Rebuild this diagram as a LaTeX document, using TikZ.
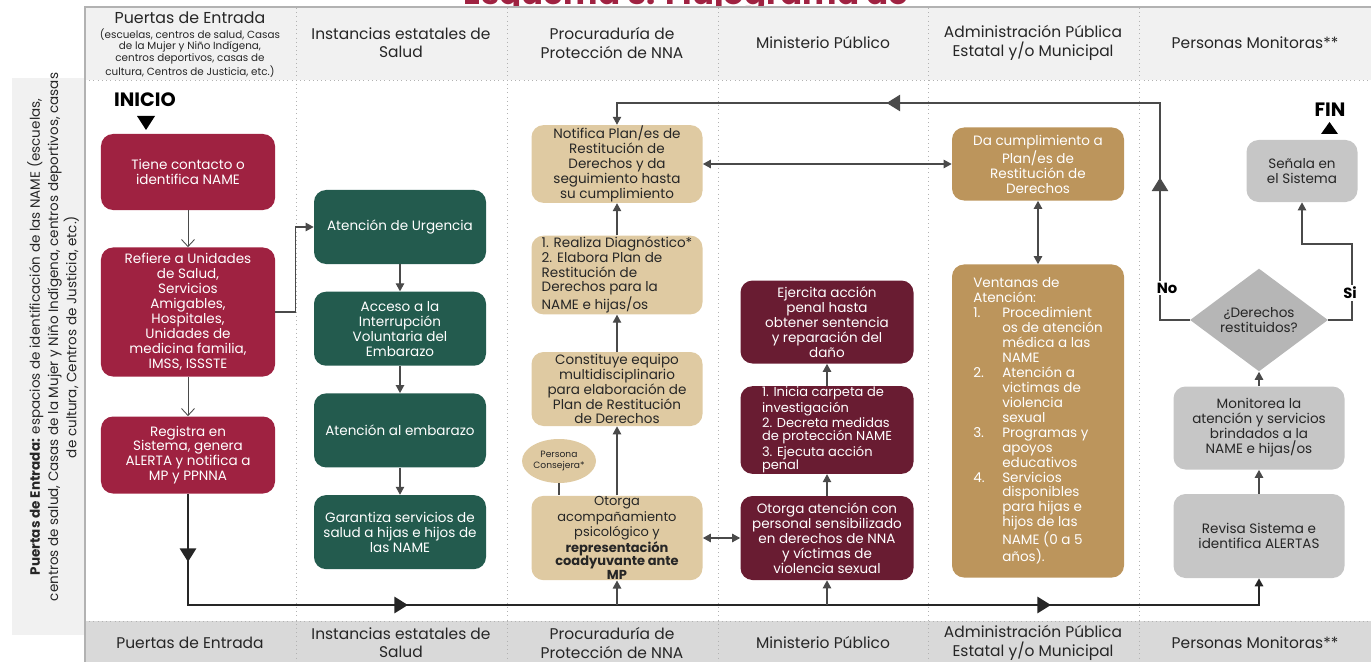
\documentclass[tikz,border=0pt]{standalone}
\usepackage{fontspec}
\setmainfont{Poppins}
\usepackage{tikz}
\usetikzlibrary{calc,positioning,arrows.meta,shapes.geometric,decorations.markings}

\definecolor{guinda}{HTML}{9F2241}
\definecolor{verde}{HTML}{235B4E}
\definecolor{arena}{HTML}{DFCAA2}
\definecolor{vino}{HTML}{691C32}
\definecolor{oro}{HTML}{BC955C}
\definecolor{grisbox}{HTML}{C6C6C6}
\definecolor{grisenc}{HTML}{F1F1F1}
\definecolor{grispie}{HTML}{D9D9D9}
\definecolor{linea}{HTML}{4A4A4A}
\definecolor{texto}{HTML}{262626}

\newcommand{\bigtri}{\arrow{Triangle[length=2.7mm,width=3.3mm]}}
\newcommand{\numv}[1]{\makebox[5.8mm][l]{#1}}
\newcommand{\sangria}{\hspace*{5.8mm}}

\begin{document}
\begin{tikzpicture}[x=0.2mm,y=-0.2mm]
\tikzstyle{caja}=[rectangle, rounded corners=2.4mm, align=center, inner sep=0.5pt, font=\fontsize{7.7}{8.5}\selectfont]
\tikzstyle{roja}=[caja, fill=guinda, text=white, minimum width=34.8mm]
\tikzstyle{verdec}=[caja, fill=verde, text=white, minimum width=34.4mm, minimum height=14.8mm, node distance=5.4mm]
\tikzstyle{arenac}=[caja, fill=arena, text=texto, minimum width=34.2mm]
\tikzstyle{vinoc}=[caja, fill=vino, text=white, minimum width=34.6mm]
\tikzstyle{oroc}=[caja, fill=oro, text=white, minimum width=34.4mm]
\tikzstyle{grisc}=[caja, fill=grisbox, text=texto, minimum width=34.2mm]
\tikzstyle{apretada}=[font=\fontsize{7.4}{7.6}\selectfont]
\tikzstyle{flecha}=[draw=linea, line width=0.6pt, -{Triangle[length=1.6mm,width=1.7mm]}]
\tikzstyle{doble}=[draw=linea, line width=0.6pt, {Triangle[length=1.6mm,width=1.7mm]}-{Triangle[length=1.6mm,width=1.7mm]}]
\tikzstyle{abierta}=[draw=linea, line width=0.5pt, -{Straight Barb[length=1.4mm,width=2.6mm]}]
\tikzstyle{guia}=[gray!60, dotted, line width=0.4pt]
\tikzstyle{encab}=[align=center, text=texto, font=\fontsize{8.8}{10.4}\selectfont]
\tikzstyle{etiq}=[fill=white, inner sep=1pt, font=\bfseries\fontsize{8.4}{9}\selectfont]

\clip (0,0) rectangle (1371,662);

% titulo cortado arriba
\node[anchor=base, text=guinda, font=\bfseries\fontsize{18.5}{20}\selectfont] (titulo) at (686,5) {Esquema 3. Flujograma de};

% fondos y carriles
\fill[grisenc] (85,7) rectangle (1371,80);
\fill[grispie] (85,621) rectangle (1371,662);
\fill[grisenc] (12,78) rectangle (85,635);
\draw[gray!60, line width=0.6pt] (85,662) -- (85,7) -- (1371,7);
\foreach \x in {296,507,718,928,1139}{\draw[guia] (\x,8) -- (\x,662);}
\draw[guia] (85,80) -- (1371,80);
\draw[guia] (85,621) -- (1371,621);

% encabezados
\node[encab, font=\fontsize{9}{10}\selectfont] (h1) at (190,18) {Puertas de Entrada};
\node[encab, font=\fontsize{5.9}{6.7}\selectfont] (h1b) at (190,53) {(escuelas, centros de salud, Casas\\de la Mujer y Niño Indígena,\\centros deportivos, casas de\\cultura, Centros de Justicia, etc.)};
\foreach \x/\t [count=\k from 2] in {401/{Instancias estatales de\\Salud}, 612/{Procuraduría de\\Protección de NNA}, 823/{Ministerio Público}, 1033/{Administración Pública\\Estatal y/o Municipal}, 1255/{Personas Monitoras**}}{\node[encab] (h\k) at (\x,43) {\t};}
\foreach \x/\t [count=\k] in {190/{Puertas de Entrada}, 401/{Instancias estatales de\\Salud}, 612/{Procuraduría de\\Protección de NNA}, 823/{Ministerio Público}, 1033/{Administración Pública\\Estatal y/o Municipal}, 1255/{Personas Monitoras**}}{\node[encab] (f\k) at (\x,643) {\t};}

\node[rotate=90, align=center, text=texto, font=\fontsize{7.7}{10.4}\selectfont] (lateral) at (53,337) {\textbf{Puertas de Entrada:} espacios de identificación de las NAME (escuelas,\\centros de salud, Casas de la Mujer y Niño Indígena, centros deportivos, casas\\de cultura, Centros de Justicia, etc.)};

% inicio y fin
\node[font=\bfseries\fontsize{11}{12}\selectfont] (inicio) at (145,100) {INICIO};
\fill (137,116) -- (155,116) -- (146,130) -- cycle;
\node[font=\bfseries\fontsize{11}{12}\selectfont] (fin) at (1330,110) {FIN};
\fill (1321,134) -- (1338,134) -- (1329.5,122) -- cycle;

% puertas de entrada
\node[roja, minimum height=15.2mm] (n1) at (188,172) {Tiene contacto o\\identifica NAME};
\node[roja, minimum height=25.8mm] (n2) at (188,312) {Refiere a Unidades\\de Salud,\\Servicios\\Amigables,\\Hospitales,\\Unidades de\\medicina familia,\\IMSS, ISSSTE};
\node[roja, minimum height=15.4mm] (n3) at (188,455) {Registra en\\Sistema, genera\\ALERTA y notifica a\\MP y PPNNA};

% salud
\node[verdec] (g1) at (400,227) {Atención de Urgencia};
\node[verdec, below=of g1] (g2) {Acceso a la\\Interrupción\\Voluntaria del\\Embarazo};
\node[verdec, below=of g2] (g3) {Atención al embarazo};
\node[verdec, below=of g3] (g4) {Garantiza servicios de\\salud a hijas e hijos de\\las NAME};

% procuraduria
\node[arenac, minimum height=14.4mm] (p1) at (617,164) {Notifica Plan/es de\\Restitución de\\Derechos y da\\seguimiento hasta\\su cumplimiento};
\node[arenac, minimum height=14.8mm, align=left] (p2) at (617,275) {1. Realiza Diagnóstico*\\2. Elabora Plan de\\Restitución de\\Derechos para la\\NAME e hijas/os};
\node[arenac, minimum height=14.8mm] (p3) at (617,389) {Constituye equipo\\multidisciplinario\\para elaboración de\\Plan de Restitución\\de Derechos};
\node[arenac, apretada, minimum height=16.8mm] (p4) at (617,538) {Otorga\\acompañamiento\\psicológico y\\\textbf{representación}\\\textbf{coadyuvante ante}\\\textbf{MP}};
\node[ellipse, fill=arena, minimum width=14.8mm, minimum height=8.8mm, inner sep=0pt, align=center, text=texto, font=\fontsize{5.2}{6.4}\selectfont] (pc) at (559,461) {Persona\\Consejera*};

% ministerio publico
\node[vinoc, minimum height=16.6mm] (m1) at (827,322) {Ejercita acción\\penal hasta\\obtener sentencia\\y reparación del\\daño};
\node[vinoc, apretada, minimum height=17mm, align=left] (m2) at (827,430) {1. Inicia carpeta de\\investigación\\2. Decreta medidas\\de protección NAME\\3. Ejecuta acción\\penal};
\node[vinoc, minimum height=16.8mm] (m3) at (827,538) {Otorga atención con\\personal sensibilizado\\en derechos de NNA\\y víctimas de\\violencia sexual};

% administracion publica
\node[oroc, minimum height=14.6mm] (a1) at (1038,164) {Da cumplimiento a\\Plan/es de\\Restitución de\\Derechos};
\node[oroc, minimum height=62.6mm, align=left] (a2) at (1038,421) {Ventanas de\\Atención:\\\numv{1.}Procedimient\\\sangria os de atención\\\sangria médica a las\\\sangria NAME\\\numv{2.}Atención a\\\sangria victimas de\\\sangria violencia\\\sangria sexual\\\numv{3.}Programas y\\\sangria apoyos\\\sangria educativos\\\numv{4.}Servicios\\\sangria disponibles\\\sangria para hijas e\\\sangria hijos de las\\\sangria NAME (0 a 5\\\sangria años).};

% personas monitoras
\node[grisc, minimum width=22.2mm, minimum height=12.4mm] (s1) at (1302,171) {Señala en\\el Sistema};
\node[diamond, fill=grisbox!92!black, minimum width=27.6mm, minimum height=14.8mm, inner sep=0pt, align=center, text=texto, font=\fontsize{7.7}{8.6}\selectfont] (d) at (1259,320) {¿Derechos\\restituidos?};
\node[grisc, minimum height=16.6mm] (s2) at (1259,428) {Monitorea la\\atención y servicios\\brindados a la\\NAME e hijas/os};
\node[grisc, minimum height=16.8mm] (s3) at (1259,536) {Revisa Sistema e\\identifica ALERTAS};

% conectores
\foreach \i/\j in {n1/n2, n2/n3}{\draw[abierta] (\i) -- (\j);}
\foreach \i/\j in {g1/g2, g2/g3, g3/g4, p4/p3, p3/p2, p2/p1, m3/m2, m2/m1, s3/s2, s2/d}{\draw[flecha] (\i) -- (\j);}
\foreach \i/\j in {p1/a1, a1/a2, p4/m3}{\draw[doble] (\i) -- (\j);}
\draw[draw=linea, line width=0.6pt] (pc) -- (pc |- p4.north);
\draw[flecha] (n2.east) -- ++(20,0) |- (g1.west);

\coordinate (baseL) at (n3.south |- 0,605);
\coordinate (baseR) at (s3.south |- 0,605);
\draw[flecha, line width=0.9pt, draw=black!85, postaction={decorate, decoration={markings, mark=at position 13.6mm with {\bigtri}, mark=at position 66.2mm with {\bigtri}, mark=at position 194.8mm with {\bigtri}}}] (n3.south) -- (baseL) -- (baseR) -- (s3.south);
\draw[flecha] (p4.south |- baseL) -- (p4.south);
\draw[flecha] (m3.south |- baseL) -- (m3.south);

\coordinate (retorno) at (1160,103);
\draw[flecha, postaction={decorate, decoration={markings, mark=at position 34.4mm with {\bigtri}, mark=at position 104mm with {\bigtri}}}] (d.west) -| (retorno) -| (p1.north);
\coordinate (sigue) at (1352,244);
\draw[flecha] (d.east) -| (sigue) -| (s1.south);
\node[etiq] (no) at (1167,288) {No};
\node[etiq] (si) at (1350,293) {Si};
\end{tikzpicture}
\end{document}
